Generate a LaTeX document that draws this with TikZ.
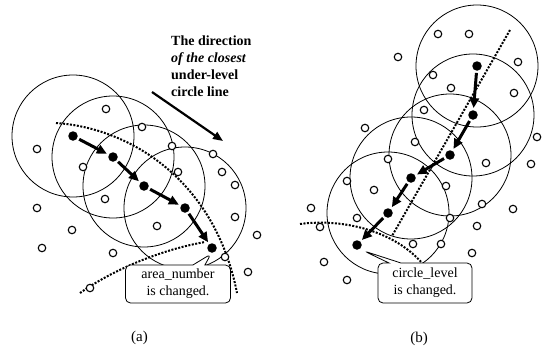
\documentclass[tikz,border=0pt]{standalone}
\usepackage{fontspec}
\setmainfont{Liberation Serif}
\usetikzlibrary{arrows.meta,shapes.callouts,backgrounds}

\tikzset{
  hop/.style={circle,fill=black,inner sep=0pt,minimum size=9.5pt},
  sens/.style={circle,draw,line width=1.1pt,fill=white,inner sep=0pt,minimum size=7.5pt},
  cover/.style={line width=0.8pt},
  mv/.style={line width=3pt,-{Triangle[length=10pt,width=9pt]},shorten <=2pt,shorten >=2pt},
  lvl/.style={line width=2pt,dash pattern=on 2pt off 1.5pt},
  note/.style={rectangle callout,draw,fill=white,rounded corners=5pt,line width=0.8pt,
    align=center,inner sep=1pt,callout pointer width=12pt,font=\fontsize{14}{17}\selectfont},
}

\begin{document}
\begin{tikzpicture}[x=1pt,y=-1pt]
\useasboundingbox (0,0) rectangle (549,351);

% sensor nodes
\foreach [count=\i] \p in {(106,109),(142,127),(37,149),(172,146),(213,154),(83,167),(178,172),
  (222,172),(235,185),(105,199),(37,208),(235,217),(157,226),(72,230),(257,235),(42,248),
  (113,253),(225,257),(248,272),(90,288)}
  \node[sens] (sa\i) at \p {};
\foreach [count=\i] \p in {(438,34),(469,34),(398,57),(518,62),(433,75),(451,88),(514,93),
  (424,110),(365,128),(537,137),(415,142),(388,159),(486,163),(531,164),(347,181),(374,190),
  (446,186),(482,204),(513,209),(311,208),(357,218),(450,218),(477,226),(320,227),(413,244),
  (441,244),(472,253),(324,262),(347,280)}
  \node[sens] (sb\i) at \p {};

% (a) path along the circle line
\node[hop] (a1) at (73,136) {};
\node[hop] (a2) at (113,157) {};
\node[hop] (a3) at (144,186) {};
\node[hop] (a4) at (185,208) {};
\node[hop] (a5) at (212,248) {};
\foreach \u/\v in {a1/a2,a2/a3,a3/a4,a4/a5}
  \draw[mv] (\u) -- (\v);

% (b) path towards the lower level
\node[hop] (b1) at (477,66) {};
\node[hop] (b2) at (473,115) {};
\node[hop] (b3) at (450,155) {};
\node[hop] (b4) at (411,178) {};
\node[hop] (b5) at (388,213) {};
\node[hop] (b6) at (357,245) {};
\foreach \u/\v in {b1/b2,b2/b3,b3/b4,b4/b5,b5/b6}
  \draw[mv] (\u) -- (\v);

\begin{scope}[on background layer]
  \foreach \c in {a1,a2,a3,a4,b1,b2,b3,b4,b5}
    \draw[cover] (\c.center) circle[radius=61];
  \draw[lvl] (56,123) .. controls (130,128) and (215,180) .. (237,293);
  \draw[lvl] (80,293) .. controls (120,265) and (170,248) .. (205,242);
  \draw[lvl] (510,30) -- (392,236);
  \draw[lvl] (300,224) .. controls (345,218) and (395,232) .. (422,263);
\end{scope}

% callouts
\node[note,minimum width=105pt,minimum height=38pt,callout absolute pointer={(211,254)}]
  (na) at (178,284) {area\_number\\is changed.};
\node[note,minimum width=94pt,minimum height=40pt,callout absolute pointer={(364,251)}]
  (nb) at (425,283) {circle\_level\\is changed.};

% direction hint
\node[font=\fontsize{14}{17}\selectfont\bfseries,align=left,anchor=north west,inner sep=0pt]
  (dir) at (171,36) {The direction\\\textit{of the closest}\\under-level\\circle line};
\coordinate (dirS) at (152,92);
\coordinate (dirE) at (223,141);
\draw[line width=2.2pt,-{Triangle[length=10pt,width=8pt]}] (dirS) -- (dirE);

\node[font=\fontsize{15}{17}\selectfont] (capa) at (139.5,338) {(a)};
\node[font=\fontsize{15}{17}\selectfont] (capb) at (419,339) {(b)};
\end{tikzpicture}
\end{document}
